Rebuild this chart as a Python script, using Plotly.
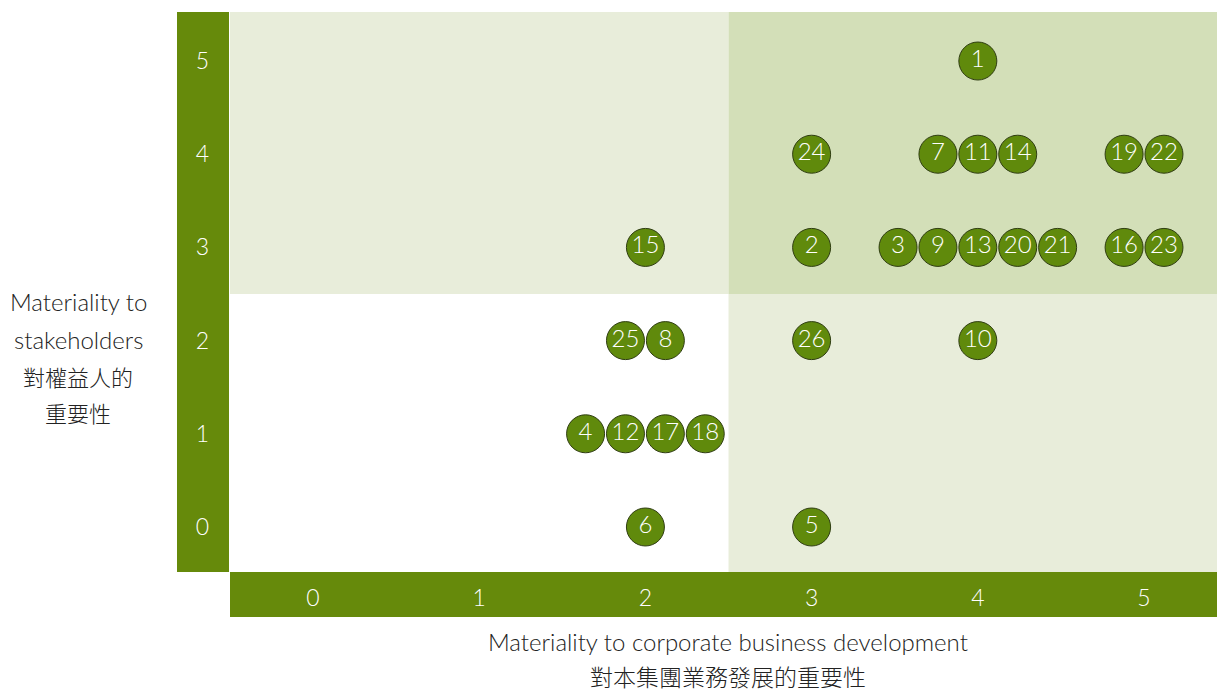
import plotly.graph_objects as go

# ---- data (listed in the order they appear left-to-right in each cell) ----
topic_ids = [1, 24, 7, 11, 14, 19, 22, 15, 2, 3, 9, 13, 20, 21, 16, 23,
             25, 8, 26, 10, 4, 12, 17, 18, 6, 5]
business_score = [4, 3, 4, 4, 4, 5, 5, 2, 3, 4, 4, 4, 4, 4, 5, 5,
                  2, 2, 3, 4, 2, 2, 2, 2, 2, 3]
stakeholder_score = [5, 4, 4, 4, 4, 4, 4, 3, 3, 3, 3, 3, 3, 3, 3, 3,
                     2, 2, 2, 2, 1, 1, 1, 1, 0, 0]
tick_values = [0, 1, 2, 3, 4, 5]
x_title_lines = ["Materiality to corporate business development", "對本集團業務發展的重要性"]
y_title_lines = ["Materiality to", "stakeholders", "對權益人的", "重要性"]

W, H = 1217, 691
GREEN = "#668a0b"
LIGHT = "#e8edda"
DARK = "#d3dfb8"
FONT = "Lato, Noto Sans CJK TC"
TXT = "#222222"

# spread bubbles that share a cell side by side
step = 0.24
groups = {}
for i, (bx, sy) in enumerate(zip(business_score, stakeholder_score)):
    groups.setdefault((bx, sy), []).append(i)
x_plot = [0.0] * len(topic_ids)
for (bx, sy), idxs in groups.items():
    n = len(idxs)
    for k, i in enumerate(idxs):
        x_plot[i] = bx + (k - (n - 1) / 2) * step

fig = go.Figure()
fig.add_trace(go.Scatter(
    x=x_plot, y=stakeholder_score, mode="markers+text",
    text=[str(t) for t in topic_ids], textposition="middle center",
    textfont=dict(color="white", size=24, family=FONT, weight=300),
    marker=dict(size=38, color="#608a0c", line=dict(color="#2f3d12", width=1)),
    hoverinfo="skip", showlegend=False, cliponaxis=False,
))

# quadrant shading
fig.add_shape(type="rect", xref="x", yref="y", x0=-1, x1=2.5, y0=2.5, y1=6,
              fillcolor=LIGHT, line_width=0, layer="below")
fig.add_shape(type="rect", xref="x", yref="y", x0=2.5, x1=7, y0=2.5, y1=6,
              fillcolor=DARK, line_width=0, layer="below")
fig.add_shape(type="rect", xref="x", yref="y", x0=2.5, x1=7, y0=-1, y1=2.5,
              fillcolor=LIGHT, line_width=0, layer="below")

# green axis bands
fig.add_shape(type="rect", xref="paper", yref="paper",
              x0=177 / W, x1=229 / W, y0=(H - 572) / H, y1=(H - 12) / H,
              fillcolor=GREEN, line_width=0, layer="below")
fig.add_shape(type="rect", xref="paper", yref="paper",
              x0=230 / W, x1=1, y0=(H - 617) / H, y1=(H - 572) / H,
              fillcolor=GREEN, line_width=0, layer="below")

annotations = []
for line, ypx, sz in zip(x_title_lines, [641, 677], [24, 23]):
    annotations.append(dict(text=line, xref="paper", yref="paper", x=728 / W, y=(H - ypx) / H,
                            xanchor="center", yanchor="middle", showarrow=False, borderpad=0,
                            font=dict(size=sz, family=FONT, weight=300, color=TXT)))
for line, ypx, sz in zip(y_title_lines, [302, 339, 377, 414], [24, 24, 22, 22]):
    annotations.append(dict(text=line, xref="paper", yref="paper", x=78 / W, y=(H - ypx) / H,
                            xanchor="center", yanchor="middle", showarrow=False, borderpad=0,
                            font=dict(size=sz, family=FONT, weight=300, color=TXT)))

fig.update_layout(
    width=W, height=H, margin=dict(l=0, r=0, t=0, b=0),
    paper_bgcolor="white", plot_bgcolor="white",
    font=dict(family=FONT, color=TXT),
    xaxis=dict(domain=[230 / W, 1], range=[-0.4994, 5.439],
               tickvals=tick_values, showgrid=False, zeroline=False,
               showline=False, ticks="", ticklabelstandoff=10,
               tickfont=dict(color="white", size=23, family=FONT, weight=300),
               fixedrange=True),
    yaxis=dict(domain=[(H - 572) / H, (H - 12) / H], range=[-0.483, 5.526],
               tickvals=tick_values, showgrid=False, zeroline=False,
               showline=False, ticks="", ticklabelstandoff=20,
               tickfont=dict(color="white", size=23, family=FONT, weight=300),
               fixedrange=True),
    annotations=annotations,
)

fig.write_html("out.html")
